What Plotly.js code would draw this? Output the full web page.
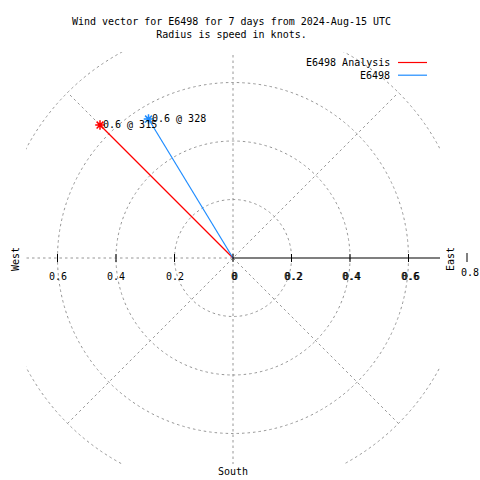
<!DOCTYPE html>
<html>
<head>
<meta charset="utf-8">
<script src="https://cdn.plot.ly/plotly-3.0.1.min.js"></script>
<style>html,body{margin:0;padding:0;background:#fff;}#chart{width:480px;height:480px;}</style>
</head>
<body>
<div id="chart"></div>
<script>
// ---- data ----
const seriesNames = ["E6498 Analysis", "E6498"];
const speeds = [0.643, 0.556];          // knots
const directions = [315, 328.7];        // degrees
const seriesColors = ["#ff0000", "#1e8cff"];
const ringRadii = [0.2, 0.4, 0.6, 0.8];
const spokeAngles = [0, 45, 90, 135];
const tickValues = [-0.6, -0.4, -0.2, 0, 0.2, 0.4, 0.6, 0.8];
const compassLabels = ["West", "East", "South"];
const titleLines = ["Wind vector for E6498 for 7 days from 2024-Aug-15 UTC", "Radius is speed in knots."];

// ---- geometry ----
const W = 480, H = 480;
const L = 26, R = 440, T = 52, B = 464;
const pxPerKnot = 292.5;
const xr = (R - L) / 2 / pxPerKnot;
const yr = (B - T) / 2 / pxPerKnot;
const pxX = p => (p - L) / (R - L);
const pxY = p => (B - p) / (B - T);
const dataToPaperX = v => (v + xr) / (2 * xr);
const FONT = {family: "DejaVu Sans Mono, monospace", size: 10, color: "#000"};
const GRID = {color: "#969696", width: 1, dash: "2.5px,3px"};

const traces = [];
const annotations = [];
const shapes = [];

// rings
ringRadii.forEach(r => shapes.push({type: "circle", xref: "x", yref: "y", x0: -r, x1: r, y0: -r, y1: r, line: GRID, layer: "below"}));
// spokes
const maxR = ringRadii[ringRadii.length - 1];
spokeAngles.forEach(a => {
  const c = Math.cos(a * Math.PI / 180), s = Math.sin(a * Math.PI / 180);
  if (a === 0) {
    shapes.push({type: "line", xref: "x", yref: "y", x0: -maxR, y0: 0, x1: 0, y1: 0, line: GRID, layer: "below"});
  } else {
    shapes.push({type: "line", xref: "x", yref: "y", x0: -maxR * c, y0: -maxR * s, x1: maxR * c, y1: maxR * s, line: GRID, layer: "below"});
  }
});
// east axis (solid)
shapes.push({type: "line", xref: "x", yref: "y", x0: 0, y0: 0, x1: xr, y1: 0, line: {color: "#000", width: 1.2}});
// ticks + labels
const tk = 4 / pxPerKnot;
tickValues.forEach(t => {
  const txt = t === 0 ? "0" : Math.abs(t).toFixed(1);
  if (t <= xr) {
    shapes.push({type: "line", xref: "x", yref: "y", x0: t, x1: t, y0: -tk, y1: tk, line: {color: "#000", width: 1}});
    if (t < 0) {
      annotations.push({xref: "x", yref: "y", x: t, y: 0, yshift: -18, xanchor: "center", yanchor: "middle", text: txt, showarrow: false, font: FONT});
    } else {
      [1, 2].forEach(sh => annotations.push({xref: "x", yref: "y", x: t, y: 0, xshift: sh, yshift: -18, xanchor: "center", yanchor: "middle", text: txt, showarrow: false, font: FONT}));
    }
  } else {
    const xp = dataToPaperX(t);
    shapes.push({type: "line", xref: "paper", yref: "paper", x0: xp, x1: xp, y0: pxY(262), y1: pxY(253), line: {color: "#000", width: 1}});
    annotations.push({xref: "paper", yref: "paper", x: xp, xshift: 3, y: pxY(272.5), xanchor: "center", yanchor: "middle", text: txt, showarrow: false, font: FONT});
  }
});

// compass labels
annotations.push({xref: "paper", yref: "paper", x: pxX(15), y: pxY(259), xanchor: "center", yanchor: "middle", text: compassLabels[0], textangle: -90, showarrow: false, font: FONT});
annotations.push({xref: "paper", yref: "paper", x: pxX(450), y: pxY(259), xanchor: "center", yanchor: "middle", text: compassLabels[1], textangle: -90, showarrow: false, font: FONT});
annotations.push({xref: "paper", yref: "paper", x: pxX(233), y: pxY(471), xanchor: "center", yanchor: "middle", text: compassLabels[2], showarrow: false, font: FONT});

// vectors
seriesNames.forEach((name, i) => {
  const d = directions[i] * Math.PI / 180;
  const ex = speeds[i] * Math.sin(d), ey = speeds[i] * Math.cos(d);
  traces.push({
    type: "scatter", mode: "lines", name: name, x: [0, ex], y: [0, ey],
    line: {color: seriesColors[i], width: 1.2}, hoverinfo: "skip", showlegend: false
  });
  traces.push({
    type: "scatter", mode: "markers", x: [ex], y: [ey], showlegend: false, hoverinfo: "skip",
    marker: {symbol: "asterisk-open", size: 8, color: seriesColors[i], line: {color: seriesColors[i], width: 1.5}}
  });
  annotations.push({xref: "x", yref: "y", x: ex, y: ey, xanchor: "left", yanchor: "middle", xshift: 1, yshift: 1,
    text: speeds[i].toFixed(1) + " @ " + Math.floor(directions[i]), showarrow: false, font: FONT});
  // legend entry
  const ly = 63 + i * 12.7;
  annotations.push({xref: "paper", yref: "paper", x: pxX(392), y: pxY(ly), xanchor: "right", yanchor: "middle",
    text: name, showarrow: false, font: FONT});
  shapes.push({type: "line", xref: "paper", yref: "paper", x0: pxX(398), x1: pxX(427), y0: pxY(ly - 0.5), y1: pxY(ly - 0.5),
    line: {color: seriesColors[i], width: 1.2}});
});

const layout = {
  width: W, height: H, autosize: false,
  margin: {l: L, r: W - R, t: T, b: H - B, pad: 0},
  paper_bgcolor: "#fff", plot_bgcolor: "#fff",
  font: FONT,
  title: {text: titleLines.join("<br>"), font: FONT, x: 231.5 / W, xref: "container", xanchor: "center",
    y: 1 - 24.5 / H, yref: "container", yanchor: "middle"},
  xaxis: {range: [-xr, xr], visible: false, fixedrange: true},
  yaxis: {range: [-yr, yr], visible: false, fixedrange: true},
  showlegend: false,
  shapes: shapes, annotations: annotations
};
Plotly.newPlot("chart", traces, layout, {staticPlot: true, displayModeBar: false});
</script>
</body>
</html>
